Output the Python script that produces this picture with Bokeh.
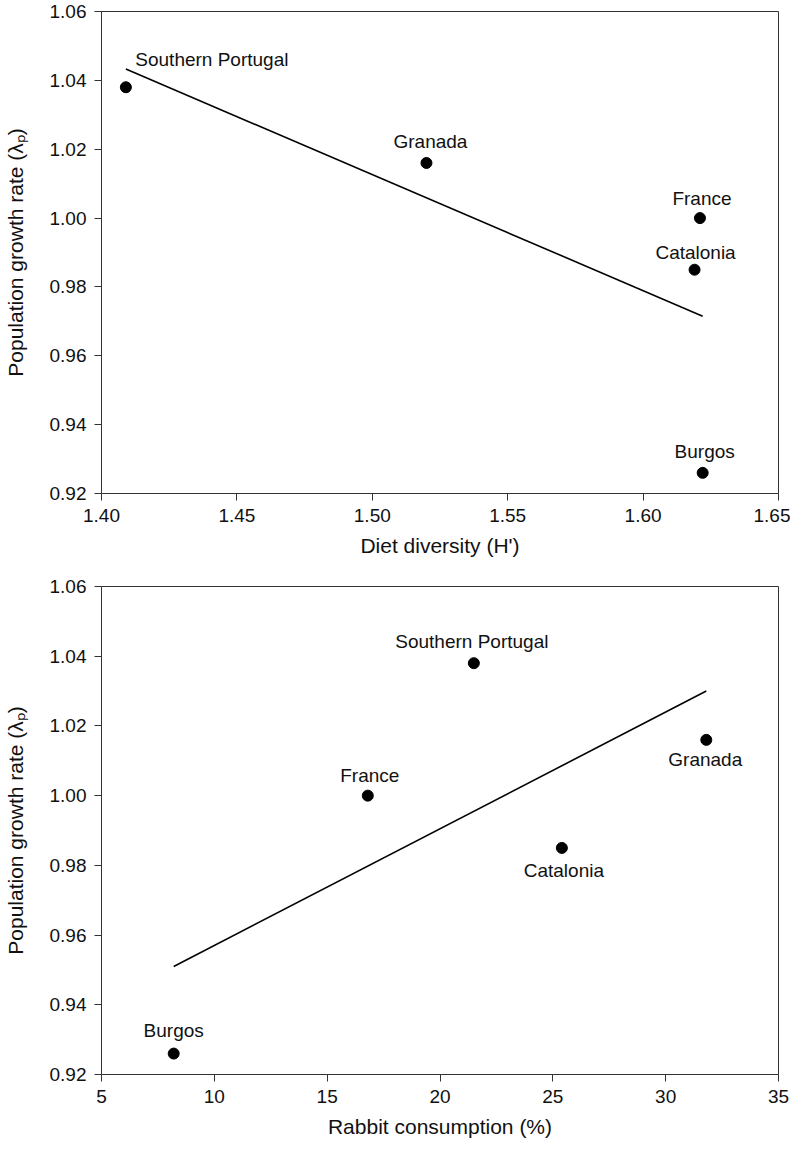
from bokeh.plotting import figure
from bokeh.layouts import column
from bokeh.models import ColumnDataSource, FixedTicker, NumeralTickFormatter, Range1d
from bokeh.core.properties import value
from bokeh.embed import file_html
from bokeh.resources import INLINE

# ---- data ----
sites = ["Southern Portugal", "Granada", "France", "Catalonia", "Burgos"]
diet_diversity = [1.409, 1.520, 1.621, 1.619, 1.622]
rabbit_consumption = [21.5, 31.8, 16.8, 25.4, 8.2]
growth_rate = [1.038, 1.016, 1.000, 0.985, 0.926]

# fitted regression lines (end points)
fit_diet_x = [1.409, 1.622]
fit_diet_y = [1.0433, 0.9715]
fit_rabbit_x = [8.2, 31.8]
fit_rabbit_y = [0.951, 1.030]

y_ticks = [0.92, 0.94, 0.96, 0.98, 1.00, 1.02, 1.04, 1.06]
diet_ticks = [1.40, 1.45, 1.50, 1.55, 1.60, 1.65]
rabbit_ticks = [5, 10, 15, 20, 25, 30, 35]

# label offsets in screen pixels (style)
top_dx = [86, 4, 2, 1, 2]
top_dy = [-28, -21, -20, -17, -21]
bot_dx = [-2, -1, 2, 2, 0]
bot_dy = [-22, 20, -20, 23, -23]

FONT = "Liberation Sans"
INK = "#111111"


def make_panel(xs, x_range, x_ticks, x_fmt, x_label, fit_x, fit_y, dx, dy,
               height, border_top, border_bottom):
    p = figure(width=790, height=height, output_backend="svg", toolbar_location=None,
               x_range=Range1d(*x_range), y_range=Range1d(0.92, 1.06),
               min_border_left=101, min_border_right=12,
               min_border_top=border_top, min_border_bottom=border_bottom)
    p.grid.visible = False
    p.outline_line_color = "#333333"
    p.outline_line_width = 1
    p.background_fill_color = "white"
    p.border_fill_color = "white"

    for ax in (p.xaxis[0], p.yaxis[0]):
        ax.axis_line_color = "#333333"
        ax.major_tick_line_color = "#333333"
        ax.minor_tick_line_color = None
        ax.major_tick_in = 0
        ax.major_tick_out = 7
        ax.major_label_text_font = FONT
        ax.major_label_text_font_size = "19px"
        ax.major_label_text_color = INK
        ax.axis_label_text_font = FONT
        ax.axis_label_text_font_size = "21px"
        ax.axis_label_text_font_style = "normal"
        ax.axis_label_text_color = INK

    p.xaxis.ticker = FixedTicker(ticks=x_ticks)
    p.xaxis.formatter = NumeralTickFormatter(format=x_fmt)
    p.xaxis.axis_label = x_label
    p.xaxis.major_label_standoff = 8
    p.xaxis.axis_label_standoff = 9

    p.yaxis.ticker = FixedTicker(ticks=y_ticks)
    p.yaxis.formatter = NumeralTickFormatter(format="0.00")
    p.yaxis.axis_label = "Population growth rate (\u03bb\u209a)"
    p.yaxis.major_label_standoff = 8
    p.yaxis.axis_label_standoff = 20

    p.line(fit_x, fit_y, line_color="black", line_width=1.6)

    src = ColumnDataSource(dict(x=xs, y=growth_rate, name=sites, dx=dx, dy=dy))
    p.scatter("x", "y", source=src, size=11, fill_color="black", line_color="black")
    p.text("x", "y", text="name", source=src, x_offset="dx", y_offset="dy",
           text_align="center", text_baseline="middle",
           text_font=value(FONT), text_font_size="19px", text_color=INK)
    return p


top = make_panel(diet_diversity, (1.40, 1.65), diet_ticks, "0.00", "Diet diversity (H')",
                 fit_diet_x, fit_diet_y, top_dx, top_dy,
                 height=576, border_top=11, border_bottom=83)
bottom = make_panel(rabbit_consumption, (5, 35), rabbit_ticks, "0", "Rabbit consumption (%)",
                    fit_rabbit_x, fit_rabbit_y, bot_dx, bot_dy,
                    height=568, border_top=10, border_bottom=70)

layout = column(top, bottom)
open("out.html", "w").write(file_html(layout, INLINE))
